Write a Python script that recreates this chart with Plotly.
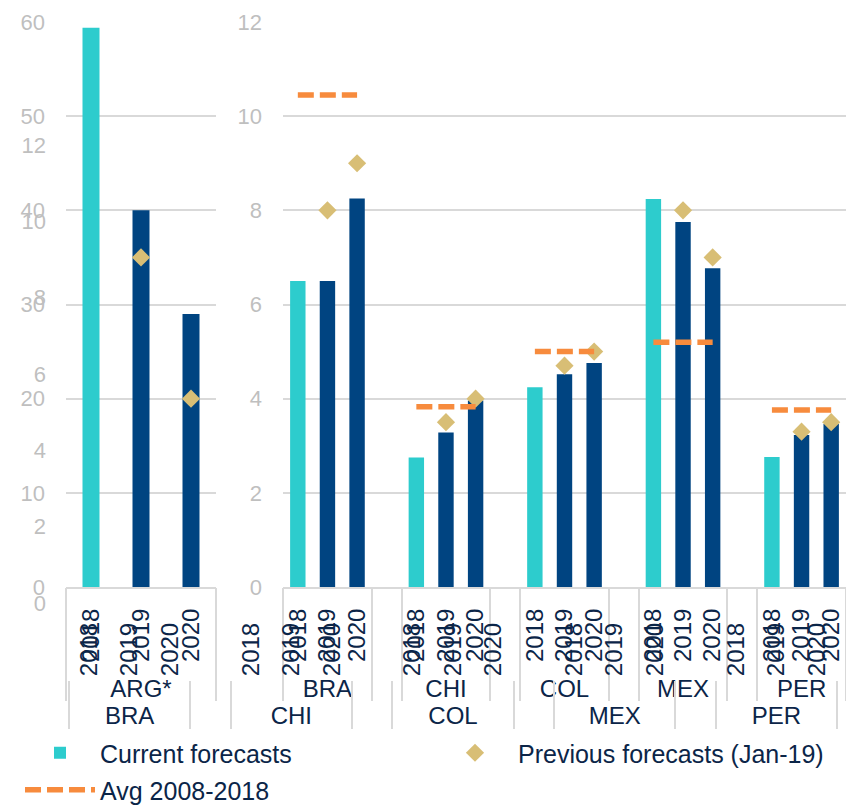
import plotly.graph_objects as go

W, H = 846, 805

# ---------------- data ----------------
years = ["2018", "2019", "2020"]

arg_label = "ARG*"
arg_current = [59.4, 40.0, 29.0]
arg_previous = [None, 35.0, 20.0]

countries = ["BRA", "CHI", "COL", "MEX", "PER"]
current_2018 = [6.5, 2.75, 4.24, 8.24, 2.76]
current_2019 = [6.5, 3.28, 4.52, 7.75, 3.23]
current_2020 = [8.25, 3.96, 4.76, 6.77, 3.46]
previous_2019 = [8.0, 3.5, 4.7, 8.0, 3.3]
previous_2020 = [9.0, 4.0, 5.0, 7.0, 3.5]
avg_2008_2018 = [10.45, 3.83, 5.0, 5.2, 3.76]

# ---------------- style ----------------
TEAL = "#2dcccd"
NAVY = "#004481"
SAND = "#d8be75"
ORANGE = "#f78b3d"
GRID = "#d9d9d9"
GRAYTXT = "#bfbfbf"
TXT = "#0b2548"
FONT = "Liberation Sans, Arial, sans-serif"

SLOTS = 4  # three years + one empty slot between countries


def px_x(v):
    return v / W


def px_y(v):
    return 1 - v / H


current_by_year = [current_2018, current_2019, current_2020]
previous_by_year = [None, previous_2019, previous_2020]

# positions on the main axis
bar_x, bar_y, bar_c = [], [], []
prev_x, prev_y = [], []
avg_x, avg_y = [], []
for g, c in enumerate(countries):
    for k in range(len(years)):
        pos = g * SLOTS + k
        bar_x.append(pos)
        bar_y.append(current_by_year[k][g])
        bar_c.append(TEAL if k == 0 else NAVY)
        if previous_by_year[k] is not None:
            prev_x.append(pos)
            prev_y.append(previous_by_year[k][g])
        avg_x.append(pos)
        avg_y.append(avg_2008_2018[g])
    avg_x.append(None)
    avg_y.append(None)

main_tickvals = [g * SLOTS + k for g in range(len(countries)) for k in range(len(years))]
main_ticktext = [years[k] for g in range(len(countries)) for k in range(len(years))]
group_centers = [g * SLOTS + (len(years) - 1) / 2 for g in range(len(countries))]
group_bounds = []
for g in range(len(countries)):
    group_bounds += [g * SLOTS - 0.5, g * SLOTS + len(years) - 0.5]
main_range = [-0.5, (len(countries) - 1) * SLOTS + len(years) - 0.5]

fig = go.Figure()

# main chart
fig.add_trace(go.Bar(
    x=bar_x, y=bar_y, xaxis="x2", yaxis="y2", width=0.52,
    marker=dict(color=bar_c, line=dict(width=0)),
    name="Current forecasts", legend="legend", hoverinfo="skip"))
fig.add_trace(go.Scatter(
    x=prev_x, y=prev_y, xaxis="x2", yaxis="y2", mode="markers",
    marker=dict(symbol="diamond", size=14, color=SAND, line=dict(width=0)),
    name="Previous forecasts (Jan-19)", legend="legend2", hoverinfo="skip"))
fig.add_trace(go.Scatter(
    x=avg_x, y=avg_y, xaxis="x2", yaxis="y2", mode="lines",
    line=dict(color=ORANGE, width=5.5, dash="16px,6px"),
    connectgaps=False, name="Avg 2008-2018", legend="legend3", hoverinfo="skip"))

# ARG chart
arg_x = list(range(len(years)))
fig.add_trace(go.Bar(
    x=arg_x, y=arg_current, xaxis="x", yaxis="y", width=0.34,
    marker=dict(color=[TEAL if k == 0 else NAVY for k in arg_x], line=dict(width=0)),
    showlegend=False, hoverinfo="skip"))
fig.add_trace(go.Scatter(
    x=arg_x, y=arg_previous, xaxis="x", yaxis="y", mode="markers",
    marker=dict(symbol="diamond", size=14, color=SAND, line=dict(width=0)),
    showlegend=False, hoverinfo="skip"))

# empty carriers so that the label / divider axes get drawn
for xa, ya in [("x5", "y"), ("x6", "y"), ("x7", "y2"), ("x8", "y2"),
               ("x3", "y3"), ("x4", "y3"), ("x9", "y3")]:
    fig.add_trace(go.Scatter(x=[None], y=[None], xaxis=xa, yaxis=ya, mode="markers",
                             showlegend=False, hoverinfo="skip"))

yearfont = dict(family=FONT, size=24, color=TXT)
grayfont = dict(family=FONT, size=22, color=GRAYTXT)

common_x = dict(showgrid=False, zeroline=False, fixedrange=True, automargin=False)

fig.update_layout(
    width=W, height=H,
    margin=dict(l=0, r=0, t=0, b=0, autoexpand=False),
    paper_bgcolor="white", plot_bgcolor="rgba(0,0,0,0)",
    font=dict(family=FONT, color=TXT),
    # ---- ARG chart ----
    xaxis=dict(domain=[px_x(66), px_x(216)], range=[-0.5, 2.5], anchor="y",
               tickmode="array", tickvals=arg_x, ticktext=years, tickangle=-90,
               ticks="", showline=True, linecolor=GRID, linewidth=2,
               tickfont=yearfont, ticklabelstandoff=10, **common_x),
    yaxis=dict(domain=[px_y(587), px_y(22)], range=[0, 60], dtick=10, anchor="x",
               showgrid=True, gridcolor=GRID, gridwidth=1.5, zeroline=False,
               showline=False, ticks="", tickfont=grayfont, ticklabelstandoff=20,
               fixedrange=True, automargin=False),
    xaxis5=dict(overlaying="x", anchor="y", range=[-0.5, 2.5], tickmode="array",
                tickvals=[-0.5, 2.5], ticks="outside", ticklen=113, tickwidth=2,
                tickcolor=GRID, showticklabels=False, showline=False, **common_x),
    xaxis6=dict(overlaying="x", anchor="free", position=px_y(672), range=[-0.5, 2.5],
                tickmode="array", tickvals=[1], ticktext=[arg_label], ticks="",
                showline=False, tickfont=yearfont, **common_x),
    # ---- main chart ----
    xaxis2=dict(domain=[px_x(283), 1.0], range=main_range, anchor="y2",
                tickmode="array", tickvals=main_tickvals, ticktext=main_ticktext,
                tickangle=-90, ticks="", showline=True, linecolor=GRID, linewidth=2,
                tickfont=yearfont, ticklabelstandoff=10, **common_x),
    yaxis2=dict(domain=[px_y(587), px_y(22)], range=[0, 12], dtick=2, anchor="x2",
                showgrid=True, gridcolor=GRID, gridwidth=1.5, zeroline=False,
                showline=False, ticks="", tickfont=grayfont, ticklabelstandoff=20,
                fixedrange=True, automargin=False),
    xaxis7=dict(overlaying="x2", anchor="y2", range=main_range, tickmode="array",
                tickvals=group_bounds, ticks="outside", ticklen=113, tickwidth=2,
                tickcolor=GRID, showticklabels=False, showline=False, **common_x),
    xaxis8=dict(overlaying="x2", anchor="free", position=px_y(672), range=main_range,
                tickmode="array", tickvals=group_centers, ticktext=countries, ticks="",
                showline=False, tickfont=yearfont, **common_x),
    # ---- background (ghost) chart ----
    xaxis3=dict(domain=[px_x(69), px_x(837)], range=main_range, anchor="y3",
                tickmode="array", tickvals=main_tickvals, ticktext=main_ticktext,
                tickangle=-90, ticks="", showline=False, tickfont=yearfont,
                ticklabelstandoff=14, **common_x),
    yaxis3=dict(domain=[px_y(603), px_y(145)], range=[0, 12], dtick=2, anchor="x3",
                showgrid=False, zeroline=False, showline=False, ticks="",
                tickfont=grayfont, ticklabelstandoff=22, fixedrange=True,
                automargin=False),
    xaxis4=dict(overlaying="x3", anchor="free", position=px_y(680), range=main_range,
                tickmode="array", tickvals=group_bounds, ticks="outside", ticklen=48,
                tickwidth=2, tickcolor=GRID, showticklabels=False, showline=False,
                **common_x),
    xaxis9=dict(overlaying="x3", anchor="free", position=px_y(699), range=main_range,
                tickmode="array", tickvals=group_centers, ticktext=countries, ticks="",
                showline=False, tickfont=yearfont, **common_x),
    # ---- legends ----
    legend=dict(x=px_x(20), y=px_y(753), xanchor="left", yanchor="middle",
                itemwidth=70, font=dict(family=FONT, size=25, color=TXT),
                bgcolor="rgba(0,0,0,0)"),
    legend2=dict(x=px_x(432), y=px_y(753), xanchor="left", yanchor="middle",
                 itemwidth=76, font=dict(family=FONT, size=25, color=TXT),
                 bgcolor="rgba(0,0,0,0)"),
    legend3=dict(x=px_x(20), y=px_y(790), xanchor="left", yanchor="middle",
                 itemwidth=70, font=dict(family=FONT, size=25, color=TXT),
                 bgcolor="rgba(0,0,0,0)"),
    showlegend=True,
)

fig.write_html("out.html")
